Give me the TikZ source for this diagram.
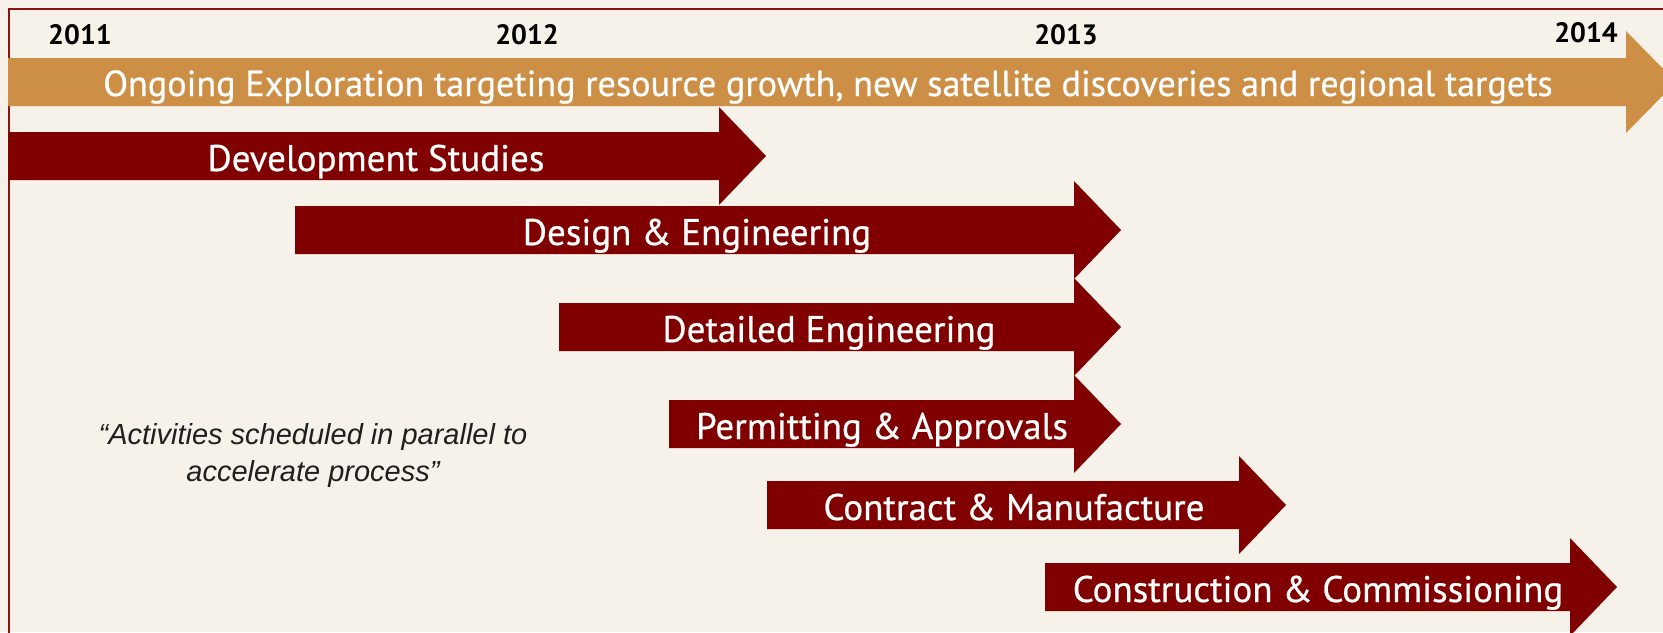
\documentclass[tikz,border=0pt]{standalone}
\usepackage{fontspec}
\setmainfont{PT Sans}[FakeBold=0.6]
\newfontfamily\yearfont{PT Sans}
\newfontfamily\quotefont{Liberation Sans}
\usepackage{xcolor}
\definecolor{paper}{RGB}{246,242,234}
\definecolor{maroon}{RGB}{128,0,0}
\definecolor{ochre}{RGB}{205,143,70}
\definecolor{frame}{RGB}{140,18,18}

\begin{document}
\begin{tikzpicture}[
x=1pt, y=-1pt,
year/.style={anchor=base, font=\yearfont\fontsize{28}{28}\selectfont\bfseries, text=black, inner sep=0pt},
phase/.style={anchor=base, font=\fontsize{37}{37}\selectfont, text=white, inner sep=0pt},
note/.style={align=center, font=\quotefont\itshape\fontsize{29}{37}\selectfont, text=black!88, inner sep=0pt},
]
\useasboundingbox (0,0) rectangle (1663,632);
\clip (0,0) rectangle (1663,632);
\fill[paper] (0,0) rectangle (1663,632);

%Frame
\draw[frame, line width=2pt] (8.5,640) -- (8.5,8.5) -- (1670,8.5);

%Years
\node[year] (y2011) at (80,44) {2011};
\node[year] (y2012) at (527,44) {2012};
\node[year] (y2013) at (1066,44) {2013};
\node[year] (y2014) at (1586,42) {2014};

%Exploration arrow
\fill[ochre] (8,58) -- (1626,58) -- (1626,31) -- (1676,82) -- (1626,133) -- (1626,106) -- (8,106) -- cycle;
\node[phase, font=\fontsize{36.2}{36.2}\selectfont] (explore) at (828,96) {Ongoing Exploration targeting resource growth, new satellite discoveries and regional targets};

%Development studies
\fill[maroon] (8,132) -- (719,132) -- (719,107) -- (766,156) -- (719,205) -- (719,180) -- (8,180) -- cycle;
\node[phase] (devstudy) at (376,171) {Development Studies};

%Design and engineering
\fill[maroon] (295,206) -- (1074,206) -- (1074,181) -- (1121,230) -- (1074,279) -- (1074,254) -- (295,254) -- cycle;
\node[phase] (design) at (697,245) {Design \& Engineering};

%Detailed engineering
\fill[maroon] (559,303) -- (1074,303) -- (1074,278) -- (1121,327) -- (1074,376) -- (1074,351) -- (559,351) -- cycle;
\node[phase] (detail) at (829,342) {Detailed Engineering};

%Permitting
\fill[maroon] (669,400) -- (1074,400) -- (1074,375) -- (1121,424) -- (1074,473) -- (1074,448) -- (669,448) -- cycle;
\node[phase] (permit) at (882,439) {Permitting \& Approvals};

%Contract and manufacture
\fill[maroon] (767,481) -- (1239,481) -- (1239,456) -- (1286,505) -- (1239,554) -- (1239,529) -- (767,529) -- cycle;
\node[phase] (contract) at (1014,520) {Contract \& Manufacture};

%Construction
\fill[maroon] (1045,563) -- (1570,563) -- (1570,538) -- (1617,587) -- (1570,636) -- (1570,611) -- (1045,611) -- cycle;
\node[phase] (build) at (1318,602) {Construction \& Commissioning};

%Quote
\node[note] (quote) at (313,455) {“Activities scheduled in parallel to\\accelerate process”};
\end{tikzpicture}
\end{document}
